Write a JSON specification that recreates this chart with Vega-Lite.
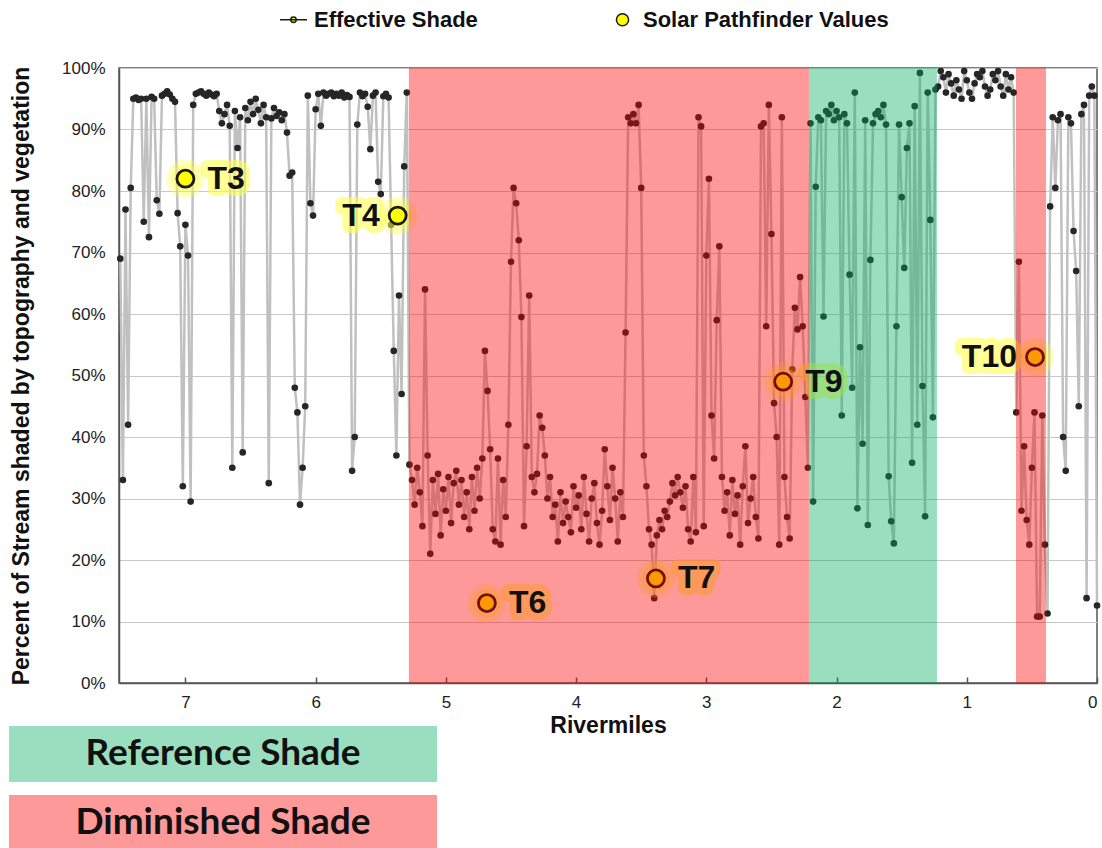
{
  "$schema": "https://vega.github.io/schema/vega-lite/v6.json",
  "background": "white",
  "autosize": {"type": "pad"},
  "padding": {"left": 9, "top": 4, "right": 0, "bottom": 0},
  "columns": 1,
  "align": "none",
  "spacing": -12,
  "bounds": "full",
  "config": {
    "font": "Liberation Sans",
    "view": {"stroke": "#555555", "strokeWidth": 1.5}
  },
  "resolve": {
    "scale": {"fill": "independent", "shape": "independent", "color": "independent", "y": "independent", "x": "independent"},
    "legend": {"shape": "independent", "fill": "independent", "color": "independent"}
  },
  "datasets": {
    "shade": [
      {"m":7.5,"v":69},{"m":7.48,"v":33},{"m":7.46,"v":77},{"m":7.44,"v":42},{"m":7.42,"v":80.5},{"m":7.4,"v":95},{"m":7.38,"v":95.2},{"m":7.36,"v":94.8},{"m":7.34,"v":95},{"m":7.32,"v":75},{"m":7.3,"v":95},{"m":7.28,"v":72.5},{"m":7.26,"v":95.3},{"m":7.24,"v":95},{"m":7.22,"v":78.5},{"m":7.2,"v":76.3},{"m":7.18,"v":95.5},{"m":7.16,"v":95.8},{"m":7.14,"v":96.2},{"m":7.12,"v":95.7},{"m":7.1,"v":95},{"m":7.08,"v":94.5},{"m":7.06,"v":76.4},{"m":7.04,"v":71},{"m":7.02,"v":32},{"m":7.0,"v":74.5},{"m":6.98,"v":69.5},{"m":6.96,"v":29.5},{"m":6.94,"v":94},{"m":6.92,"v":95.8},{"m":6.9,"v":96},{"m":6.88,"v":96.2},{"m":6.86,"v":95.8},{"m":6.84,"v":95.5},{"m":6.82,"v":96},{"m":6.8,"v":95.7},{"m":6.78,"v":95.4},{"m":6.76,"v":95.8},{"m":6.74,"v":93},{"m":6.72,"v":91},{"m":6.7,"v":92.5},{"m":6.68,"v":94},{"m":6.66,"v":90.6},{"m":6.64,"v":35},{"m":6.62,"v":93},{"m":6.6,"v":87},{"m":6.58,"v":92},{"m":6.56,"v":37.5},{"m":6.54,"v":93.5},{"m":6.52,"v":91.5},{"m":6.5,"v":94.5},{"m":6.48,"v":92.5},{"m":6.46,"v":95},{"m":6.44,"v":93.2},{"m":6.42,"v":91},{"m":6.4,"v":94},{"m":6.38,"v":92},{"m":6.36,"v":32.5},{"m":6.34,"v":91.8},{"m":6.32,"v":93.5},{"m":6.3,"v":92.2},{"m":6.28,"v":92.8},{"m":6.26,"v":91.5},{"m":6.24,"v":92.5},{"m":6.22,"v":89.5},{"m":6.2,"v":82.5},{"m":6.18,"v":83},{"m":6.16,"v":48},{"m":6.14,"v":44},{"m":6.12,"v":29},{"m":6.1,"v":35},{"m":6.08,"v":45},{"m":6.06,"v":95.5},{"m":6.04,"v":78},{"m":6.02,"v":76},{"m":6.0,"v":93.3},{"m":5.98,"v":95.8},{"m":5.96,"v":90.6},{"m":5.94,"v":96},{"m":5.92,"v":95.5},{"m":5.9,"v":95.8},{"m":5.88,"v":96},{"m":5.86,"v":95.4},{"m":5.84,"v":95.8},{"m":5.82,"v":95.5},{"m":5.8,"v":96},{"m":5.78,"v":95.2},{"m":5.76,"v":95.6},{"m":5.74,"v":95.3},{"m":5.72,"v":34.5},{"m":5.7,"v":40},{"m":5.68,"v":90.8},{"m":5.66,"v":96},{"m":5.64,"v":95.4},{"m":5.62,"v":95.8},{"m":5.6,"v":93.7},{"m":5.58,"v":86.8},{"m":5.56,"v":95.5},{"m":5.54,"v":96},{"m":5.52,"v":81.5},{"m":5.5,"v":79.5},{"m":5.48,"v":95.4},{"m":5.46,"v":95.8},{"m":5.44,"v":95.2},{"m":5.42,"v":74.5},{"m":5.4,"v":54},{"m":5.38,"v":37},{"m":5.36,"v":63},{"m":5.34,"v":47},{"m":5.32,"v":84},{"m":5.3,"v":96},
      {"m":5.28,"v":35.5},{"m":5.26,"v":33},{"m":5.24,"v":29},{"m":5.22,"v":35},{"m":5.2,"v":31},{"m":5.18,"v":25.5},{"m":5.16,"v":64},{"m":5.14,"v":37},{"m":5.12,"v":21},{"m":5.1,"v":33},{"m":5.08,"v":27.5},{"m":5.06,"v":34},{"m":5.04,"v":24},{"m":5.02,"v":31.5},{"m":5.0,"v":28},{"m":4.98,"v":33.5},{"m":4.96,"v":26},{"m":4.94,"v":32.5},{"m":4.92,"v":34.5},{"m":4.9,"v":29},{"m":4.88,"v":33},{"m":4.86,"v":27},{"m":4.84,"v":31},{"m":4.82,"v":25},{"m":4.8,"v":33.5},{"m":4.78,"v":28},{"m":4.76,"v":35},{"m":4.74,"v":30},{"m":4.72,"v":36.5},{"m":4.7,"v":54},{"m":4.68,"v":47.5},{"m":4.66,"v":38},{"m":4.64,"v":25},{"m":4.62,"v":23},{"m":4.6,"v":36.5},{"m":4.58,"v":22.5},{"m":4.56,"v":33},{"m":4.54,"v":27},{"m":4.52,"v":42},{"m":4.5,"v":68.5},{"m":4.48,"v":80.5},{"m":4.46,"v":78},{"m":4.44,"v":72},{"m":4.42,"v":59.5},{"m":4.4,"v":25.5},{"m":4.38,"v":38.5},{"m":4.36,"v":63},{"m":4.34,"v":33.5},{"m":4.32,"v":31},{"m":4.3,"v":34},{"m":4.28,"v":43.5},{"m":4.26,"v":41.5},{"m":4.24,"v":37},{"m":4.22,"v":30},{"m":4.2,"v":33.5},{"m":4.18,"v":27},{"m":4.16,"v":29},{"m":4.14,"v":23},{"m":4.12,"v":31},{"m":4.1,"v":26},{"m":4.08,"v":29.5},{"m":4.06,"v":27},{"m":4.04,"v":24.5},{"m":4.02,"v":32},{"m":4.0,"v":28.5},{"m":3.98,"v":30.5},{"m":3.96,"v":25},{"m":3.94,"v":33.5},{"m":3.92,"v":27.5},{"m":3.9,"v":23},{"m":3.88,"v":30},{"m":3.86,"v":32.5},{"m":3.84,"v":26},{"m":3.82,"v":22.5},{"m":3.8,"v":28},{"m":3.78,"v":38},{"m":3.76,"v":32},{"m":3.74,"v":26.5},{"m":3.72,"v":35},{"m":3.7,"v":30},{"m":3.68,"v":23},{"m":3.66,"v":31},{"m":3.64,"v":27},{"m":3.62,"v":57},{"m":3.6,"v":92},{"m":3.58,"v":91},{"m":3.56,"v":92.5},{"m":3.54,"v":91},{"m":3.52,"v":94},{"m":3.5,"v":80.5},{"m":3.48,"v":37},{"m":3.46,"v":32},{"m":3.44,"v":25},{"m":3.42,"v":22.5},{"m":3.4,"v":13.8},{"m":3.38,"v":24},{"m":3.36,"v":26.5},{"m":3.34,"v":25},{"m":3.32,"v":28},{"m":3.3,"v":27},{"m":3.28,"v":29.5},{"m":3.26,"v":32.5},{"m":3.24,"v":30.5},{"m":3.22,"v":33.5},{"m":3.2,"v":31},{"m":3.18,"v":28.5},{"m":3.16,"v":32},{"m":3.14,"v":25},{"m":3.12,"v":23},{"m":3.1,"v":33.5},{"m":3.08,"v":24.5},{"m":3.06,"v":92},{"m":3.04,"v":90.5},{"m":3.02,"v":25.5},{"m":3.0,"v":69.5},{"m":2.98,"v":82},{"m":2.96,"v":43.5},{"m":2.94,"v":36.5},{"m":2.92,"v":59},{"m":2.9,"v":71},{"m":2.88,"v":33.5},{"m":2.86,"v":28},{"m":2.84,"v":31},{"m":2.82,"v":24},{"m":2.8,"v":33},{"m":2.78,"v":27.5},{"m":2.76,"v":30.5},{"m":2.74,"v":22.5},{"m":2.72,"v":32},{"m":2.7,"v":38.5},{"m":2.68,"v":26},{"m":2.66,"v":30},{"m":2.64,"v":33.5},{"m":2.62,"v":27},{"m":2.6,"v":23.5},{"m":2.58,"v":90.5},{"m":2.56,"v":91},{"m":2.54,"v":58},{"m":2.52,"v":94},{"m":2.5,"v":73},{"m":2.48,"v":45.5},{"m":2.46,"v":40},{"m":2.44,"v":22.5},{"m":2.42,"v":92},{"m":2.4,"v":33.5},{"m":2.38,"v":27},{"m":2.36,"v":23.5},{"m":2.34,"v":51},{"m":2.32,"v":61},{"m":2.3,"v":57.5},{"m":2.28,"v":66},{"m":2.26,"v":58},{"m":2.24,"v":46.5},{"m":2.22,"v":35},
      {"m":2.2,"v":91},{"m":2.18,"v":29.5},{"m":2.16,"v":80.7},{"m":2.14,"v":92},{"m":2.12,"v":91.5},{"m":2.1,"v":59.6},{"m":2.08,"v":93},{"m":2.06,"v":92.5},{"m":2.04,"v":94},{"m":2.02,"v":91.5},{"m":2.0,"v":93},{"m":1.98,"v":92},{"m":1.96,"v":43.5},{"m":1.94,"v":92.5},{"m":1.92,"v":91},{"m":1.9,"v":66.4},{"m":1.88,"v":48},{"m":1.86,"v":96},{"m":1.84,"v":28.4},{"m":1.82,"v":54.6},{"m":1.8,"v":38.9},{"m":1.78,"v":91.5},{"m":1.76,"v":25.7},{"m":1.74,"v":68.8},{"m":1.72,"v":91},{"m":1.7,"v":92.5},{"m":1.68,"v":93},{"m":1.66,"v":92},{"m":1.64,"v":94},{"m":1.62,"v":90.8},{"m":1.6,"v":33.6},{"m":1.58,"v":26.3},{"m":1.56,"v":22.7},{"m":1.54,"v":58},{"m":1.52,"v":90.8},{"m":1.5,"v":79},{"m":1.48,"v":67.5},{"m":1.46,"v":87},{"m":1.44,"v":91},{"m":1.42,"v":35.8},{"m":1.4,"v":93.8},{"m":1.38,"v":42},{"m":1.36,"v":99.2},{"m":1.34,"v":48.3},{"m":1.32,"v":27.1},{"m":1.3,"v":96},{"m":1.28,"v":75.3},{"m":1.26,"v":43.2},{"m":1.24,"v":96.5},
      {"m":1.22,"v":97},{"m":1.2,"v":99.5},{"m":1.18,"v":98.5},{"m":1.16,"v":96},{"m":1.14,"v":99},{"m":1.12,"v":97.5},{"m":1.1,"v":95.5},{"m":1.08,"v":98},{"m":1.06,"v":96.5},{"m":1.04,"v":95},{"m":1.02,"v":99.5},{"m":1.0,"v":98},{"m":0.98,"v":96},{"m":0.96,"v":95},{"m":0.94,"v":97.5},{"m":0.92,"v":99},{"m":0.9,"v":98.5},{"m":0.88,"v":99.5},{"m":0.86,"v":97},{"m":0.84,"v":95.5},{"m":0.82,"v":96.5},{"m":0.8,"v":99},{"m":0.78,"v":98},{"m":0.76,"v":99.5},{"m":0.74,"v":97},{"m":0.72,"v":95.5},{"m":0.7,"v":99},{"m":0.68,"v":96.5},{"m":0.66,"v":98.5},{"m":0.64,"v":96},
      {"m":0.62,"v":44},{"m":0.6,"v":68.5},{"m":0.58,"v":28},{"m":0.56,"v":38.5},{"m":0.54,"v":26.5},{"m":0.52,"v":22.5},{"m":0.5,"v":35},{"m":0.48,"v":44},{"m":0.46,"v":10.8},{"m":0.44,"v":10.8},{"m":0.42,"v":43.5},{"m":0.4,"v":22.5},
      {"m":0.38,"v":11.3},{"m":0.36,"v":77.5},{"m":0.34,"v":92},{"m":0.32,"v":80.5},{"m":0.3,"v":91.5},{"m":0.28,"v":92.5},{"m":0.26,"v":40},{"m":0.24,"v":34.5},{"m":0.22,"v":92},{"m":0.2,"v":91},{"m":0.18,"v":73.5},{"m":0.16,"v":67},{"m":0.14,"v":45},{"m":0.12,"v":92.5},{"m":0.1,"v":94},{"m":0.08,"v":13.8},{"m":0.06,"v":95.5},{"m":0.04,"v":97},{"m":0.02,"v":95.5},{"m":0.0,"v":12.6}
    ],
    "spf": [
      {"site":"T3","m":7.0,"v":82},
      {"site":"T4","m":5.37,"v":76},
      {"site":"T6","m":4.685,"v":13},
      {"site":"T7","m":3.387,"v":17},
      {"site":"T9","m":2.41,"v":49},
      {"site":"T10","m":0.476,"v":53}
    ],
    "bands": [
      {"start":5.284,"end":2.212,"kind":"Diminished Shade"},
      {"start":2.212,"end":1.229,"kind":"Reference Shade"},
      {"start":0.622,"end":0.392,"kind":"Diminished Shade"}
    ],
    "boxes": [
      {"label":"Reference Shade"},
      {"label":"Diminished Shade"}
    ]
  },
  "concat": [
    {
      "width": 978,
      "height": 615,
      "layer": [
        {"data": {"name": "shade"}, "mark": {"type": "line", "color": "#c0c0c0", "strokeWidth": 2.5},
          "encoding": {
            "x": {"field": "m", "type": "quantitative",
              "scale": {"domain": [0, 7.51], "reverse": true, "nice": false, "zero": false},
              "axis": {"title": "Rivermiles", "values": [0,1,2,3,4,5,6,7], "format": "d", "grid": false,
                "domainColor": "#555555", "domainWidth": 1.5, "tickColor": "#555555", "tickSize": -6, "tickWidth": 1.5,
                "labelFontSize": 17, "labelColor": "#222222", "labelPadding": 17,
                "titleFontSize": 23, "titleFontWeight": "bold", "titleColor": "#111111", "titlePadding": 4}},
            "y": {"field": "v", "type": "quantitative",
              "scale": {"domain": [0, 100], "nice": false},
              "axis": {"title": "Percent of Stream shaded by topography and vegetation",
                "values": [0,10,20,30,40,50,60,70,80,90,100], "labelExpr": "datum.value + '%'",
                "grid": true, "gridColor": "#c8c8c8", "gridWidth": 1.2, "ticks": false,
                "domainColor": "#555555", "domainWidth": 1.5,
                "labelFontSize": 17, "labelColor": "#222222", "labelPadding": 14,
                "titleFontSize": 23, "titleFontWeight": "bold", "titleColor": "#111111", "titlePadding": 28}}
          }},
        {"data": {"name": "shade"}, "mark": {"type": "circle", "size": 44, "color": "#262626", "opacity": 1},
          "encoding": {"x": {"field": "m", "type": "quantitative"}, "y": {"field": "v", "type": "quantitative"}}},
        {"data": {"name": "spf"}, "mark": {"type": "circle", "size": 1500, "color": "#ffff40", "opacity": 0.3},
          "encoding": {"x": {"field": "m", "type": "quantitative"}, "y": {"field": "v", "type": "quantitative"}}},
        {"data": {"name": "spf"}, "mark": {"type": "circle", "size": 800, "color": "#ffff40", "opacity": 0.35},
          "encoding": {"x": {"field": "m", "type": "quantitative"}, "y": {"field": "v", "type": "quantitative"}}},
        {"data": {"name": "spf"},
          "mark": {"type": "point", "filled": true, "fill": "#ffff00", "stroke": "#1a1a1a", "strokeWidth": 2.8, "size": 1430, "opacity": 1},
          "encoding": {
            "x": {"field": "m", "type": "quantitative"},
            "y": {"field": "v", "type": "quantitative"},
            "shape": {"datum": "Solar Pathfinder Values", "type": "nominal",
              "scale": {"domain": ["Effective Shade", "Solar Pathfinder Values"],
                "range": ["M-1,0H1M0.2,0A0.2,0.2,0,1,1,-0.2,0A0.2,0.2,0,1,1,0.2,0Z", "M0.45,0A0.45,0.45,0,1,1,-0.45,0A0.45,0.45,0,1,1,0.45,0Z"]},
              "legend": {"orient": "none", "legendX": 160, "legendY": -63, "direction": "horizontal", "title": null,
                "labelFontSize": 22, "labelFontWeight": "bold", "labelColor": "#111111", "labelFont": "Liberation Sans", "labelLimit": 500,
                "columnPadding": 130, "labelOffset": 6, "symbolSize": 729, "symbolStrokeWidth": 1.5,
                "encode": {"symbols": {"update": {
                  "fill": {"signal": "datum.value === 'Effective Shade' ? '#222222' : '#ffff00'"},
                  "stroke": {"signal": "datum.value === 'Effective Shade' ? '#888888' : '#222222'"},
                  "strokeWidth": {"signal": "datum.value === 'Effective Shade' ? 1.5 : 2.2"},
                  "opacity": {"value": 1}
                }}}}}
          }},
        {"data": {"name": "spf"}, "transform": [{"filter": "datum.site !== 'T4' && datum.site !== 'T10'"}],
          "mark": {"type": "text", "align": "left", "baseline": "middle", "dx": 22, "fontSize": 32, "fontWeight": "bold", "font": "Liberation Sans",
            "color": "#ffff55", "stroke": "#ffff55", "strokeWidth": 14, "strokeJoin": "round", "opacity": 0.6},
          "encoding": {"x": {"field": "m", "type": "quantitative"}, "y": {"field": "v", "type": "quantitative"}, "text": {"field": "site"}}},
        {"data": {"name": "spf"}, "transform": [{"filter": "datum.site === 'T4' || datum.site === 'T10'"}],
          "mark": {"type": "text", "align": "right", "baseline": "middle", "dx": -18, "fontSize": 32, "fontWeight": "bold", "font": "Liberation Sans",
            "color": "#ffff55", "stroke": "#ffff55", "strokeWidth": 14, "strokeJoin": "round", "opacity": 0.6},
          "encoding": {"x": {"field": "m", "type": "quantitative"}, "y": {"field": "v", "type": "quantitative"}, "text": {"field": "site"}}},
        {"data": {"name": "bands"},
          "mark": {"type": "rect", "opacity": 0.4},
          "encoding": {
            "x": {"field": "start", "type": "quantitative"},
            "x2": {"field": "end"},
            "color": {"field": "kind", "type": "nominal",
              "scale": {"domain": ["Reference Shade", "Diminished Shade"], "range": ["#00ac5c", "#fa0000"]}, "legend": null}
          }},
        {"data": {"name": "spf"}, "transform": [{"filter": "datum.site !== 'T4' && datum.site !== 'T10'"}],
          "mark": {"type": "text", "align": "left", "baseline": "middle", "dx": 22, "fontSize": 32, "fontWeight": "bold", "font": "Liberation Sans", "color": "#111111"},
          "encoding": {"x": {"field": "m", "type": "quantitative"}, "y": {"field": "v", "type": "quantitative"}, "text": {"field": "site"}}},
        {"data": {"name": "spf"}, "transform": [{"filter": "datum.site === 'T4' || datum.site === 'T10'"}],
          "mark": {"type": "text", "align": "right", "baseline": "middle", "dx": -18, "fontSize": 32, "fontWeight": "bold", "font": "Liberation Sans", "color": "#111111"},
          "encoding": {"x": {"field": "m", "type": "quantitative"}, "y": {"field": "v", "type": "quantitative"}, "text": {"field": "site"}}}
      ]
    },
    {
      "width": 428,
      "height": 125,
      "view": {"stroke": null},
      "data": {"name": "boxes"},
      "encoding": {
        "y": {"field": "label", "type": "nominal", "sort": null, "scale": {"paddingInner": 0.188, "paddingOuter": 0}, "axis": null}
      },
      "layer": [
        {"mark": {"type": "rect", "opacity": 0.4, "xOffset": -110, "x2Offset": -110},
          "encoding": {
            "x": {"datum": 0, "type": "quantitative", "scale": {"domain": [0, 1], "nice": false, "zero": false}, "axis": null},
            "x2": {"datum": 1},
            "fill": {"field": "label", "type": "nominal", "scale": {"domain": ["Reference Shade", "Diminished Shade"], "range": ["#00ac5c", "#fa0000"]}, "legend": null}}},
        {"mark": {"type": "text", "font": "Lato", "fontSize": 37, "fontWeight": "bold", "color": "#111111", "baseline": "middle", "xOffset": -110},
          "encoding": {
            "x": {"datum": 0.5, "type": "quantitative"},
            "text": {"field": "label"}}}
      ]
    }
  ]
}
